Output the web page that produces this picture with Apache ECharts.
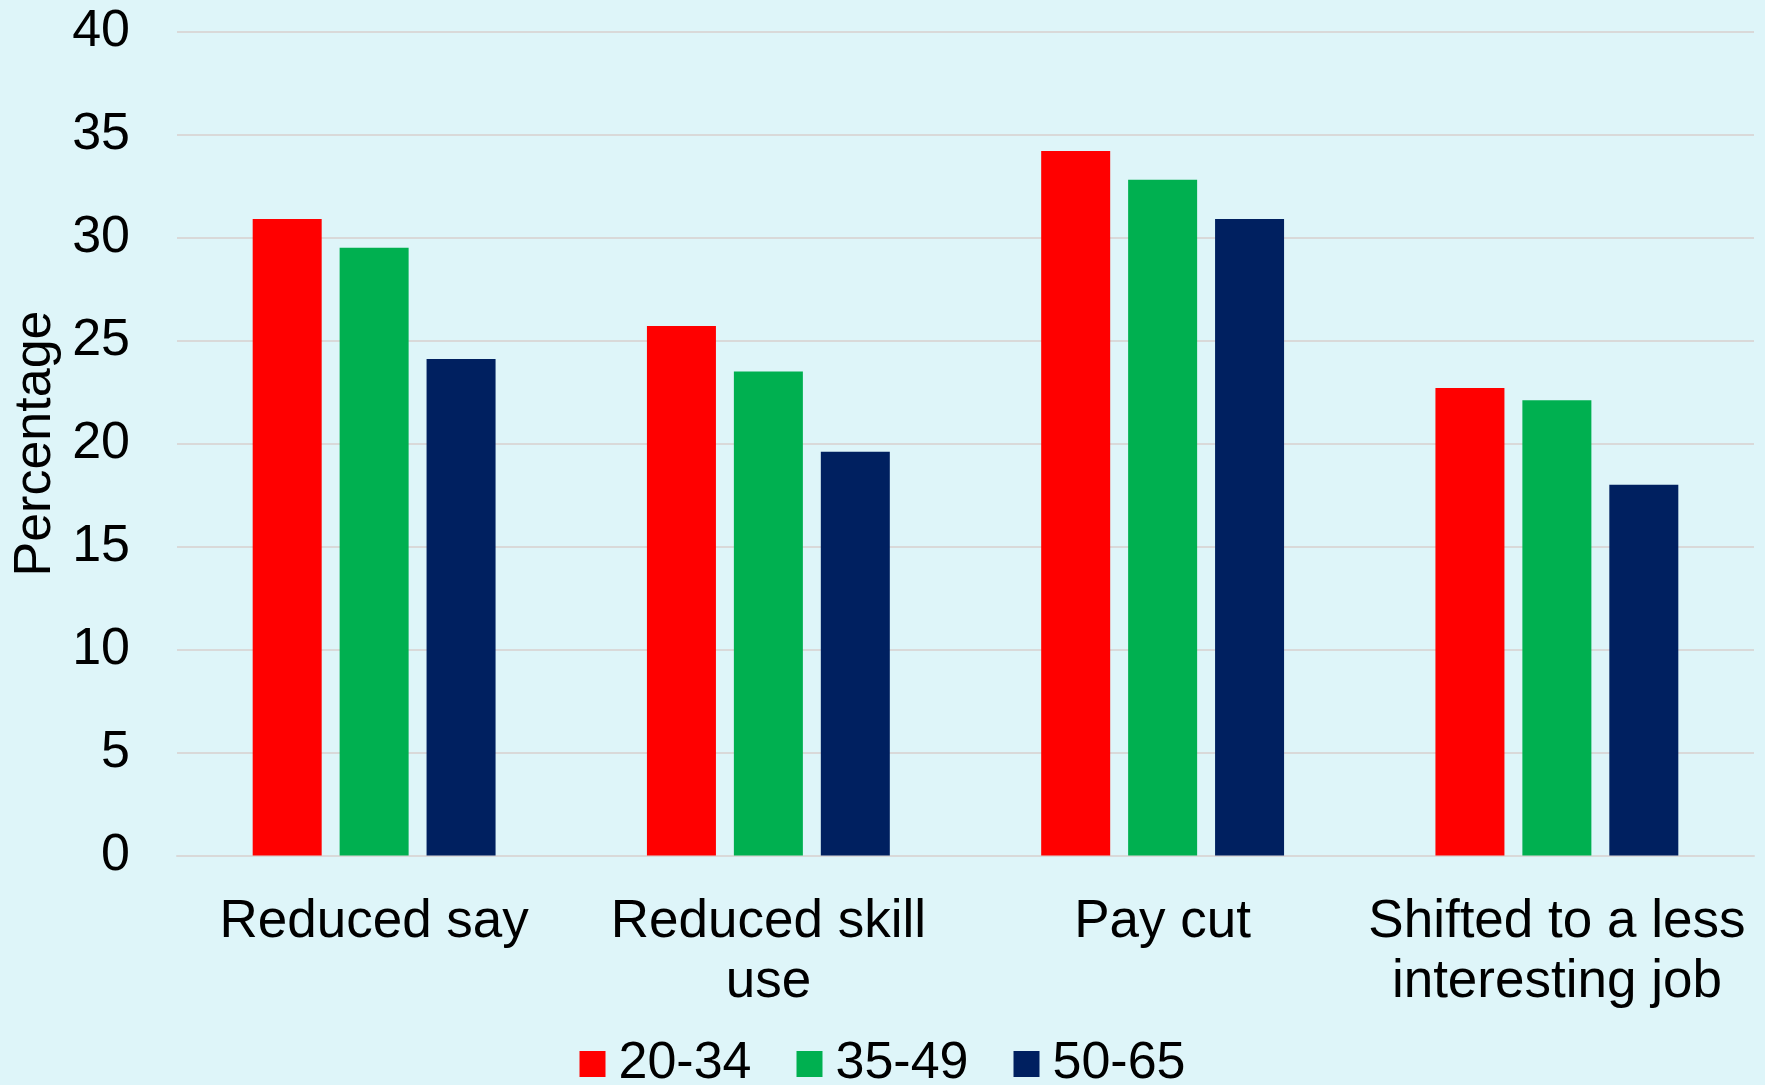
<!DOCTYPE html>
<html>
<head>
<meta charset="utf-8">
<script src="https://cdn.jsdelivr.net/npm/echarts@6/dist/echarts.min.js"></script>
<style>
  html, body { margin: 0; padding: 0; background: #DEF5F9; }
  #chart { width: 1765px; height: 1085px; }
</style>
</head>
<body>
<div id="chart"></div>
<script>
// Categories of job change and share of workers reporting each, by age group
const categories = ['Reduced say', 'Reduced skill\nuse', 'Pay cut', 'Shifted to a less\ninteresting job'];
const ageGroups = ['20-34', '35-49', '50-65'];
const age20to34 = [30.9, 25.7, 34.2, 22.7];
const age35to49 = [29.5, 23.5, 32.8, 22.1];
const age50to65 = [24.1, 19.6, 30.9, 18.0];
const yTicks = { min: 0, max: 40, interval: 5 };

const colors = ['#FF0000', '#00B050', '#002060'];
const seriesValues = [age20to34, age35to49, age50to65];
const FONT = '"Liberation Sans", Arial, sans-serif';

const chart = echarts.init(document.getElementById('chart'), null, { renderer: 'canvas' });
chart.setOption({
  backgroundColor: '#DEF5F9',
  animation: false,
  textStyle: { fontFamily: FONT, color: '#000' },
  grid: { left: 177, right: 11, top: 31.5, bottom: 229.5 },
  legend: {
    data: ageGroups,
    left: 'center',
    top: 1038,
    padding: 0,
    itemWidth: 26,
    itemHeight: 26,
    itemGap: 45,
    icon: 'rect',
    textStyle: { fontFamily: FONT, fontSize: 52, color: '#000', padding: [0, 0, 0, 8], lineHeight: 52 }
  },
  xAxis: {
    type: 'category',
    data: categories,
    axisLine: { show: true, lineStyle: { color: '#D9D9D9', width: 2 } },
    axisTick: { show: false },
    axisLabel: { fontFamily: FONT, fontSize: 53, color: '#000', lineHeight: 60, margin: 37, interval: 0 }
  },
  yAxis: {
    type: 'value',
    min: yTicks.min,
    max: yTicks.max,
    interval: yTicks.interval,
    name: 'Percentage',
    nameLocation: 'middle',
    nameGap: 115,
    nameTextStyle: { fontFamily: FONT, fontSize: 52, color: '#000' },
    axisLine: { show: false },
    axisTick: { show: false },
    axisLabel: { fontFamily: FONT, fontSize: 52, color: '#000', margin: 47 },
    splitLine: { lineStyle: { color: '#D9D9D9', width: 2 } }
  },
  series: ageGroups.map((name, i) => ({
    name: name,
    type: 'bar',
    data: seriesValues[i],
    barWidth: 69,
    barGap: '26%',
    itemStyle: { color: colors[i] }
  }))
});
</script>
</body>
</html>
